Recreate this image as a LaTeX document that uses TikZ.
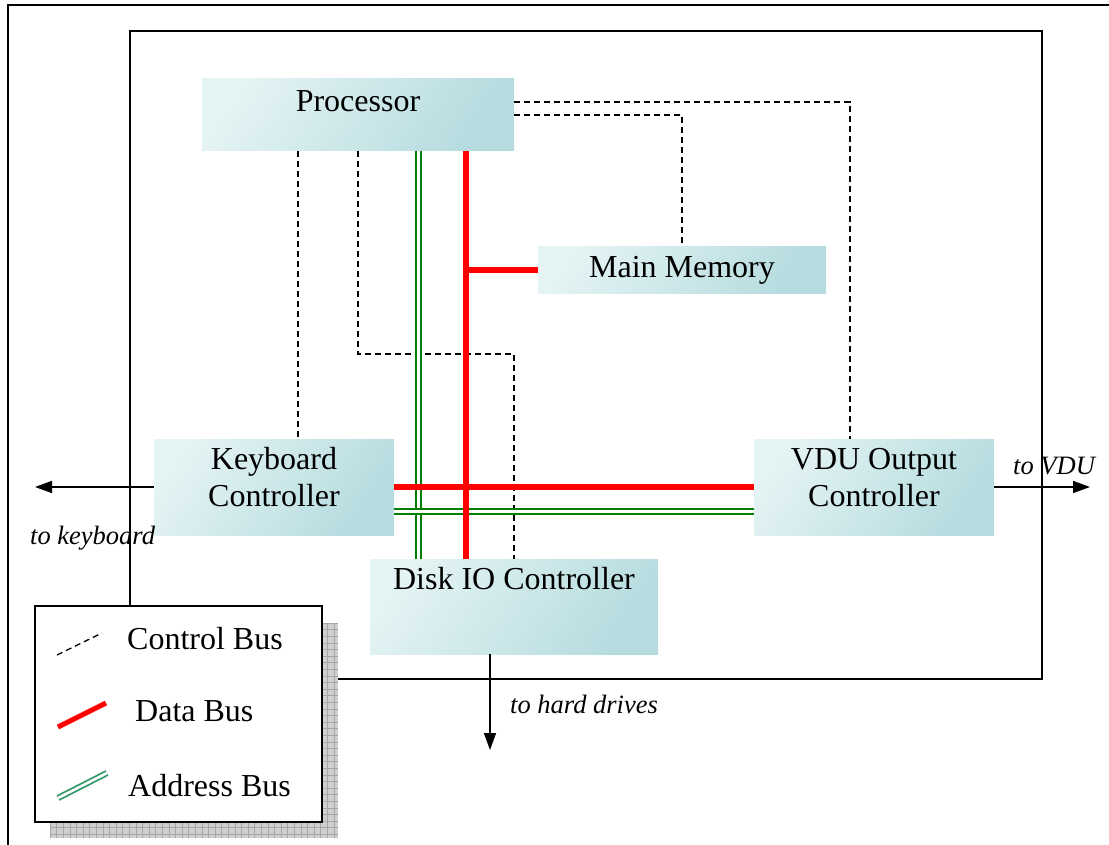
\documentclass[tikz,border=0pt]{standalone}
\usepackage{fontspec}
\setmainfont{Liberation Serif}
\usetikzlibrary{arrows.meta}

\definecolor{boxlight}{HTML}{E4F3F4}
\definecolor{boxdark}{HTML}{B6DCDF}
\definecolor{addrgreen}{HTML}{008000}
\definecolor{keygreen}{HTML}{359869}
\definecolor{busred}{HTML}{FF0000}

% text raised inside a box without changing the box's size
\newcommand{\lifted}[2]{\raisebox{#1}[0pt][0pt]{\begin{tabular}[t]{@{}c@{}}#2\end{tabular}}}

\begin{document}
\begin{tikzpicture}[x=1pt,y=-1pt,
  unit/.style={rectangle, inner sep=0pt, top color=boxlight, bottom color=boxdark,
    shading angle=55, font=\fontsize{32}{37}\selectfont},
  ctrl/.style={line width=1.5pt, dash pattern=on 6pt off 4pt},
  databus/.style={line width=6pt, busred},
  addrbus/.style={draw=addrgreen, double=white, line width=2pt, double distance=3pt},
  frame/.style={line width=2pt},
  outlink/.style={line width=1.6pt, -{Triangle[length=17pt,width=12pt]}},
  note/.style={font=\fontsize{26.5}{30}\selectfont\itshape, inner sep=0pt, anchor=base west},
  legtext/.style={font=\fontsize{32}{37}\selectfont, inner sep=0pt, anchor=base west}]

\useasboundingbox (0,0) rectangle (1109,845);

% frames
\draw[line width=2.4pt] (8,845) -- (8,5) -- (1109,5);
\draw[frame] (130,31) rectangle (1042,679);

% lane positions
\coordinate (lkbd) at (298,0);
\coordinate (ldisk) at (358,354);
\coordinate (lvdu) at (850,102);
\coordinate (dx) at (466,0);
\coordinate (ax) at (418,0);
\coordinate (ay) at (0,511);
\coordinate (kbdout) at (35,487);
\coordinate (vduout) at (1090,487);
\coordinate (hdout) at (490,750);

% units
\node[unit, minimum width=312pt, minimum height=72pt] (cpu) at (358,115) {\lifted{3.5pt}{Processor}};
\node[unit, minimum width=288pt, minimum height=47pt] (mem) at (682,270.5) {\lifted{-7pt}{Main Memory}};
\node[unit, minimum width=240pt, minimum height=96pt] (kbd) at (274,487) {\lifted{17.5pt}{Keyboard\\Controller}};
\node[unit, minimum width=240pt, minimum height=96pt] (vdu) at (874,487) {\lifted{17.5pt}{VDU Output\\Controller}};
\node[unit, minimum width=288pt, minimum height=95pt] (disk) at (514,606.5) {\lifted{17pt}{Disk IO Controller}};

% control bus
\draw[ctrl] (cpu.south -| lkbd) -- (kbd.north -| lkbd);
\draw[ctrl] (cpu.south -| ldisk) -- (ldisk) -| (disk.north);
\draw[ctrl] (cpu.east |- lvdu) -- (lvdu) -- (vdu.north -| lvdu);
\draw[ctrl] (cpu.east) -| (mem.north);

% address bus
\draw[addrbus] (cpu.south -| ax) -- (disk.north -| ax);
\draw[addrbus] (kbd.east |- ay) -- (vdu.west |- ay);

% data bus
\draw[databus] (cpu.south -| dx) -- (disk.north -| dx);
\draw[databus] (mem.west -| dx) -- (mem.west);
\draw[databus] (kbd.east) -- (vdu.west);

% external links
\draw[outlink] (kbd.west) -- (kbdout);
\draw[outlink] (vdu.east) -- (vduout);
\draw[outlink] (disk.south -| hdout) -- (hdout);
\node[note] (kbdnote) at (30,544) {to keyboard};
\node[note] (vdunote) at (1013,474) {to VDU};
\node[note] (hdnote) at (510,713) {to hard drives};

% legend with its chequered shadow
\fill[gray!38] (50,623) rectangle (338,838);
\foreach \i in {0,...,43} \draw[gray!70, line width=0.5pt] (50+\i*6.6,623) -- (50+\i*6.6,838);
\foreach \j in {0,...,32} \draw[gray!70, line width=0.5pt] (50,623+\j*6.6) -- (338,623+\j*6.6);
\node[draw, line width=2pt, fill=white, inner sep=0pt, minimum width=287pt, minimum height=216pt] (legend) at (178.5,714) {};
\draw[ctrl, line width=1.3pt] (57,655) -- (102,633);
\draw[busred, line width=5pt] (58,727) -- (106,703);
\draw[draw=keygreen, double=white, line width=1.8pt, double distance=2.6pt] (58,798) -- (107,773);
\node[legtext] (lctrl) at (127,649) {Control Bus};
\node[legtext] (ldata) at (135,721) {Data Bus};
\node[legtext] (laddr) at (128,796) {Address Bus};
\end{tikzpicture}
\end{document}
